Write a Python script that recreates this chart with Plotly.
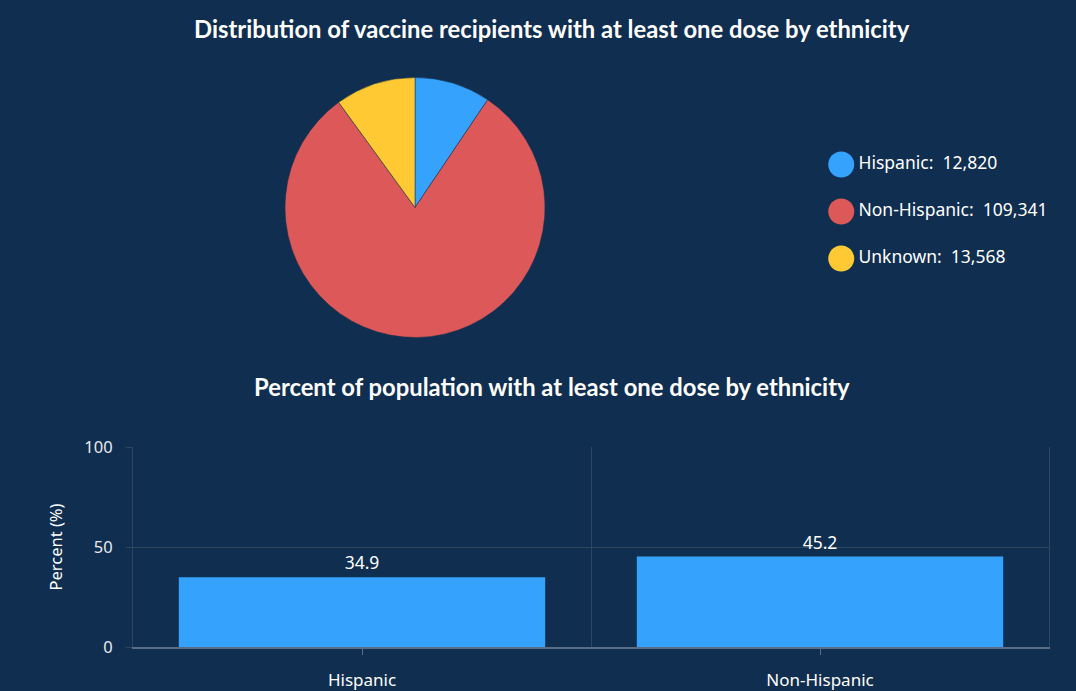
import plotly.graph_objects as go

# ---- data ----
pie_categories = ["Hispanic", "Non-Hispanic", "Unknown"]
pie_values = [12820, 109341, 13568]
pie_colors = ["#35a3fd", "#dd5858", "#ffc933"]

bar_categories = ["Hispanic", "Non-Hispanic"]
bar_values = [34.9, 45.2]
y_ticks = [0, 50, 100]

BG = "#102e4f"
GRID = "#2f4661"
TXT = "#ffffff"
W, H = 1076, 691

fig = go.Figure()

# Pie
fig.add_trace(go.Pie(
    labels=pie_categories, values=pie_values, sort=False, direction="clockwise",
    rotation=0, textinfo="none", showlegend=False,
    marker=dict(colors=pie_colors, line=dict(color=BG, width=0.5)),
    domain=dict(x=[285 / W, 545 / W], y=[1 - 338 / H, 1 - 77 / H]),
))

# Custom circular legend (on hidden axes)
n = len(pie_categories)
fig.add_trace(go.Scatter(
    x=[0] * n, y=list(range(n - 1, -1, -1)),
    mode="markers+text",
    marker=dict(size=26, color=pie_colors),
    text=[f"{c}:  {v:,}" for c, v in zip(pie_categories, pie_values)],
    textposition="middle right",
    textfont=dict(family="Noto Sans", size=17.5, color=TXT),
    cliponaxis=False, showlegend=False, hoverinfo="skip",
    xaxis="x3", yaxis="y3",
))

# Bars
fig.add_trace(go.Bar(
    x=bar_categories, y=bar_values, width=0.8,
    marker=dict(color="#35a3fd", line=dict(width=0)),
    text=bar_values, texttemplate="%{y}", textposition="outside",
    textfont=dict(family="Noto Sans", size=17.5, color=TXT),
    cliponaxis=False, showlegend=False,
    xaxis="x", yaxis="y",
))
# invisible trace for category-boundary grid axis
fig.add_trace(go.Scatter(x=[0], y=[None], xaxis="x2", yaxis="y",
                         showlegend=False, hoverinfo="skip", mode="markers"))

fig.update_layout(
    width=W, height=H,
    paper_bgcolor=BG, plot_bgcolor=BG,
    margin=dict(l=0, r=0, t=0, b=0, autoexpand=False),
    bargap=0.2,
    xaxis=dict(
        domain=[133 / W, 1049 / W], anchor="y", type="category",
        range=[-0.5, 1.5], automargin=False,
        showgrid=False, zeroline=False,
        showline=True, linecolor="#5b6d82", linewidth=2,
        ticks="outside", ticklen=6, tickcolor="#5b6d82", tickwidth=1,
        ticklabelstandoff=11,
        tickfont=dict(family="Noto Sans", size=17, color=TXT),
    ),
    xaxis2=dict(
        overlaying="x", anchor="y", range=[-0.5, 1.5], automargin=False,
        tickmode="array", tickvals=[0.5],
        showgrid=True, gridcolor=GRID, gridwidth=1,
        showticklabels=False, ticks="", zeroline=False, showline=False,
    ),
    yaxis=dict(
        domain=[1 - 647 / H, 1 - 447 / H], anchor="x", automargin=False,
        range=[0, 100], tickvals=y_ticks,
        showgrid=True, gridcolor=GRID, gridwidth=1, zeroline=False,
        showline=True, linecolor=GRID, linewidth=1, mirror=True,
        ticks="outside", ticklen=6, tickcolor=GRID,
        ticklabelstandoff=10,
        tickfont=dict(family="Noto Sans", size=16.5, color="#e6e9ee"),
        title=dict(text="Percent (%)", standoff=17,
                   font=dict(family="Noto Sans", size=16.5, color=TXT)),
    ),
    xaxis3=dict(domain=[0.76, 1.0], range=[-0.1, 1], visible=False, anchor="y3"),
    yaxis3=dict(domain=[1 - 282 / H, 1 - 141 / H], range=[-0.5, 2.5],
                visible=False, anchor="x3"),
    annotations=[
        dict(text="<b>Distribution of vaccine recipients with at least one dose by ethnicity</b>",
             x=552 / W, y=1 - 29 / H, xref="paper", yref="paper", showarrow=False,
             xanchor="center", yanchor="middle",
             font=dict(family="Lato", size=23.8, color=TXT)),
        dict(text="<b>Percent of population with at least one dose by ethnicity</b>",
             x=552 / W, y=1 - 387 / H, xref="paper", yref="paper", showarrow=False,
             xanchor="center", yanchor="middle",
             font=dict(family="Lato", size=23.8, color=TXT)),
    ],
)

fig.write_html("out.html", config={"displayModeBar": False},
               post_script="document.body.style.margin='0';document.body.style.padding='0';")
